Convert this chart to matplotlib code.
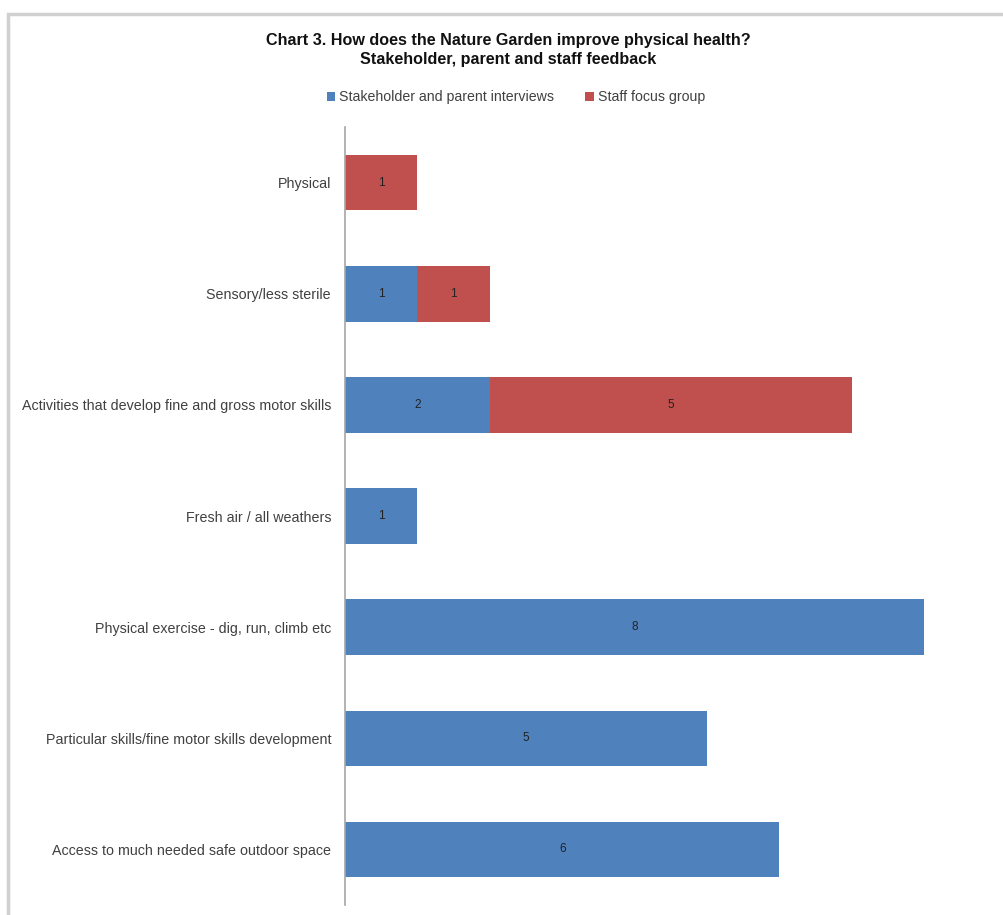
import matplotlib.pyplot as plt
import numpy as np
from matplotlib.patches import Rectangle

categories = [
    "Physical",
    "Sensory/less sterile",
    "Activities that develop fine and gross motor skills",
    "Fresh air / all weathers",
    "Physical exercise - dig, run, climb etc",
    "Particular skills/fine motor skills development",
    "Access to much needed safe outdoor space",
]
stakeholder_parent = [0, 1, 2, 1, 8, 5, 6]
staff_focus = [1, 1, 5, 0, 0, 0, 0]
series_names = ["Stakeholder and parent interviews", "Staff focus group"]

BLUE = "#4F81BD"
RED = "#C0504D"
TEXT = "#404040"

plt.rcParams["font.family"] = ["Liberation Sans", "DejaVu Sans"]

fig = plt.figure(figsize=(10.04, 9.15), dpi=100)
W, H = 1004, 915
ax = fig.add_axes([345 / W, 10 / H, (993 - 345) / W, 778 / H])

# first category at the top
y = np.arange(len(categories))[::-1]
a = np.array(stakeholder_parent, dtype=float)
b = np.array(staff_focus, dtype=float)

bars_a = ax.barh(y, a, height=0.5, color=BLUE, label=series_names[0])
bars_b = ax.barh(y, b, left=a, height=0.5, color=RED, label=series_names[1])

for bars, vals, lefts in ((bars_a, a, np.zeros_like(a)), (bars_b, b, a)):
    for yi, v, l in zip(y, vals, lefts):
        if v > 0:
            ax.text(l + v / 2, yi, f"{int(v)}", ha="center", va="center",
                    fontsize=8.5, color="#222222")

ax.set_xlim(0, 8.95)
ax.set_ylim(-0.5, len(categories) - 0.5)
ax.set_yticks(y)
ax.set_yticklabels(categories, fontsize=10.3, color=TEXT)
ax.tick_params(axis="y", length=0, pad=10)
ax.set_xticks([])
for side in ("top", "right", "bottom"):
    ax.spines[side].set_visible(False)
ax.spines["left"].set_color("#A6A6A6")
ax.spines["left"].set_linewidth(1.2)

fig.text(508 / W, 1 - 50 / H,
         "Chart 3. How does the Nature Garden improve physical health?\n"
         "Stakeholder, parent and staff feedback",
         ha="center", va="center", fontsize=11.6, fontweight="bold",
         color="#111111", linespacing=1.4)

fig.legend(handles=[bars_a, bars_b], labels=series_names,
           loc="center", bbox_to_anchor=(516 / W, 1 - 97 / H), ncol=2,
           frameon=False, fontsize=10.2, handlelength=0.6, handleheight=0.6,
           handletextpad=0.3, columnspacing=2.2, labelcolor=TEXT)

# outer chart frame
fig.patches.append(Rectangle((8 / W, -0.05), 1.1, 1 - 14 / H + 0.05,
                             transform=fig.transFigure, fill=False,
                             edgecolor="#D0D0D0", linewidth=2.5))

fig.savefig("out.png", dpi=100, facecolor="white")
